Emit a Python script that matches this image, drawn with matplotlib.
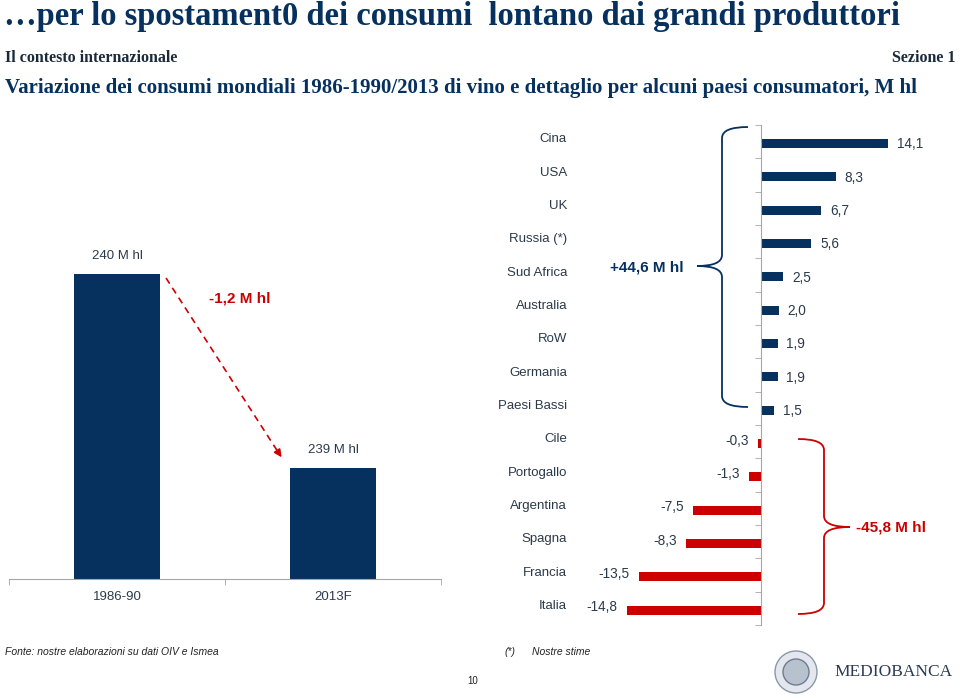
import matplotlib
matplotlib.use("Agg")
import matplotlib.pyplot as plt
from matplotlib.path import Path
from matplotlib.patches import PathPatch, Circle
from matplotlib.ticker import FixedLocator, NullLocator

# data
left_cats = ["1986-90", "2013F"]
left_vals = [240.2, 239.0]
left_texts = ["240 M hl", "239 M hl"]
left_change = "-1,2 M hl"

countries = ["Cina", "USA", "UK", "Russia (*)", "Sud Africa", "Australia", "RoW",
             "Germania", "Paesi Bassi", "Cile", "Portogallo", "Argentina",
             "Spagna", "Francia", "Italia"]
changes = [14.1, 8.3, 6.7, 5.6, 2.5, 2.0, 1.9, 1.9, 1.5,
           -0.3, -1.3, -7.5, -8.3, -13.5, -14.8]
gain_text = "+44,6 M hl"
loss_text = "-45,8 M hl"

NAVY = "#06315f"
RED = "#cc0000"
TXT = "#2b3a4a"
GREY = "#a6a6a6"
W, H = 960, 699


def box(x0, y0, x1, y1):
    return [x0 / W, 1 - y1 / H, (x1 - x0) / W, (y1 - y0) / H]


fig = plt.figure(figsize=(9.6, 6.99), dpi=100)
fig.patch.set_facecolor("white")

# ---- left chart: world consumption
axl = fig.add_axes(box(9, 250, 441, 579))
base = 238.31
axl.bar(range(2), [v - base for v in left_vals], bottom=base, width=0.4, color=NAVY)
axl.set_xlim(-0.5, 1.5)
axl.set_ylim(base, base + 329 * (left_vals[0] - base) / 305)
for s in ["top", "right", "left"]:
    axl.spines[s].set_visible(False)
axl.spines["bottom"].set_color(GREY)
axl.yaxis.set_major_locator(NullLocator())
axl.set_xticks(range(2))
axl.set_xticklabels(left_cats, fontsize=9.5, color=TXT, family="Liberation Sans")
axl.tick_params(axis="x", which="major", length=0, pad=9)
axl.xaxis.set_minor_locator(FixedLocator([-0.5, 0.5, 1.5]))
axl.tick_params(axis="x", which="minor", length=4, color=GREY, direction="out")
for i, (v, t) in enumerate(zip(left_vals, left_texts)):
    axl.text(i, v + 0.075, t, ha="center", va="bottom", fontsize=9.5,
             color=TXT, family="Liberation Sans")
# dashed arrow between the bars
x0, y0 = 0.227, left_vals[0] - 0.025
x1, y1 = 0.769, left_vals[1] + 0.05
axl.plot([x0, x1 - 0.02], [y0, y1 + 0.04], color=RED, lw=1.2, ls=(0, (4, 3)))
axl.annotate("", xy=(x1, y1), xytext=(x1 - 0.03, y1 + 0.06),
             arrowprops=dict(arrowstyle="-|>", color=RED, lw=1.2, mutation_scale=11))
axl.text(0.57, left_vals[0] - 0.15, left_change, ha="center", va="center",
         fontsize=11, fontweight="bold", color=RED, family="Liberation Sans")

# ---- right chart: change by country
axr = fig.add_axes(box(480, 125, 950, 625))
scale = 9.05
axr.set_xlim((480 - 760.7) / scale, (950 - 760.7) / scale)
axr.set_ylim(len(countries) - 0.5, -0.5)
ypos = [i + 0.05 for i in range(len(countries))]
cols = [NAVY if v > 0 else RED for v in changes]
axr.barh(ypos, changes, height=0.27, color=cols)
for s in ["top", "right", "bottom"]:
    axr.spines[s].set_visible(False)
axr.spines["left"].set_position(("data", 0))
axr.spines["left"].set_color(GREY)
axr.xaxis.set_major_locator(NullLocator())
axr.yaxis.set_major_locator(NullLocator())
axr.yaxis.set_minor_locator(FixedLocator([i - 0.5 for i in range(len(countries) + 1)]))
axr.tick_params(axis="y", which="minor", length=4, color=GREY, direction="out")
lab_x = (567 - 760.7) / scale
for y, c, v in zip(ypos, countries, changes):
    axr.text(lab_x, y - 0.12, c, ha="right", va="center", fontsize=9.5,
             color=TXT, family="Liberation Sans")
    s = f"{v:.1f}".replace(".", ",")
    if v > 0:
        axr.text(v + 0.95, y + 0.03, s, ha="left", va="center", fontsize=9.8,
                 color=TXT, family="Liberation Sans")
    else:
        axr.text(v - 1.0, y - 0.08, s, ha="right", va="center", fontsize=9.8,
                 color=TXT, family="Liberation Sans")

# ---- overlay for titles, braces, footer
ov = fig.add_axes([0, 0, 1, 1])
ov.set_xlim(0, W)
ov.set_ylim(H, 0)
ov.axis("off")
ov.patch.set_alpha(0)

ov.text(4, 16, "\u2026per lo spostament0 dei consumi  lontano dai grandi produttori",
        ha="left", va="center", fontsize=23.5, fontweight="bold", color=NAVY,
        family="Liberation Serif")
ov.text(5, 58, "Il contesto internazionale", ha="left", va="center", fontsize=11.5,
        fontweight="bold", color="#1a2a3a", family="Liberation Serif")
ov.text(955, 58, "Sezione 1", ha="right", va="center", fontsize=11.5,
        fontweight="bold", color="#1a2a3a", family="Liberation Serif")
ov.text(5, 88, "Variazione dei consumi mondiali 1986-1990/2013 di vino e dettaglio per alcuni paesi consumatori, M hl",
        ha="left", va="center", fontsize=15, fontweight="bold", color=NAVY,
        family="Liberation Serif")


def brace(xe, xs, xt, ytop, ymid, ybot, color, r=11):
    verts = [(xe, ytop), (xs, ytop), (xs, ytop + r),
             (xs, ymid - r), (xs, ymid), (xt, ymid),
             (xs, ymid), (xs, ymid + r),
             (xs, ybot - r), (xs, ybot), (xe, ybot)]
    codes = [Path.MOVETO, Path.CURVE3, Path.CURVE3,
             Path.LINETO, Path.CURVE3, Path.CURVE3,
             Path.CURVE3, Path.CURVE3,
             Path.LINETO, Path.CURVE3, Path.CURVE3]
    ov.add_patch(PathPatch(Path(verts, codes), fill=False, ec=color, lw=1.3))


brace(748, 722, 697, 127, 266, 407, NAVY)
brace(798, 824, 850, 439, 527, 614, RED)
ov.text(647, 268, gain_text, ha="center", va="center", fontsize=11,
        fontweight="bold", color=NAVY, family="Liberation Sans")
ov.text(856, 527, loss_text, ha="left", va="center", fontsize=11,
        fontweight="bold", color=RED, family="Liberation Sans")

# footer
ov.text(5, 652, "Fonte: nostre elaborazioni su dati OIV e Ismea", ha="left", va="center",
        fontsize=7.5, style="italic", color="#222222", family="Liberation Sans")
ov.text(505, 652, "(*)", ha="left", va="center", fontsize=7.5, style="italic",
        color="#222222", family="Liberation Sans")
ov.text(532, 652, "Nostre stime", ha="left", va="center", fontsize=7.5, style="italic",
        color="#222222", family="Liberation Sans")
ov.text(473, 681, "10", ha="center", va="center", fontsize=7, color="#222222",
        family="Liberation Sans")
# logo
ov.add_patch(Circle((796, 672), 21, fc="#e4e8ee", ec="#8a97a8", lw=1))
ov.add_patch(Circle((796, 672), 13, fc="#b8c2cf", ec="#6d7d91", lw=1))
ov.text(834, 672, "MEDIOBANCA", ha="left", va="center", fontsize=12.5,
        color="#2b3a55", family="Liberation Serif")

fig.savefig("out.png", dpi=100)
